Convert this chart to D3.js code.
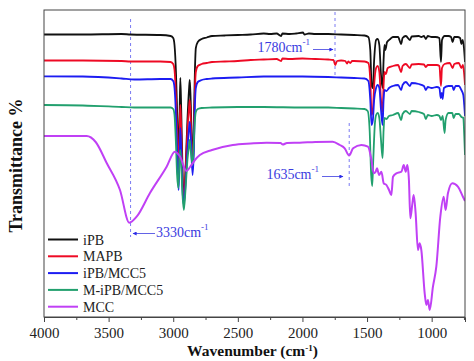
<!DOCTYPE html>
<html>
<head>
<meta charset="utf-8">
<script src="https://cdn.jsdelivr.net/npm/d3@7"></script>
<style>
  body { margin: 0; background: #fff; }
  svg { display: block; font-family: "Liberation Serif", "Times New Roman", serif; }
  svg text { font-family: "Liberation Serif", "Times New Roman", serif; }
</style>
</head>
<body>
<div id="chart"></div>
<script>
// series names and colours
const seriesNames = ['iPB', 'MAPB', 'iPB/MCC5', 'M-iPB/MCC5', 'MCC'];

// spectra: [wavenumber, transmittance (arbitrary, offset per sample)]
const iPB = [
  [4000,282.5],[3700,282.5],[3400,283],[3330,282.5],[3100,282],[3020,281],[3000,279],[2990,272],
  [2978,242],[2968,197],[2958,157],[2950,207],[2945,239],[2938,207],[2928,147],[2918,117],
  [2905,147],[2890,197],[2878,227],[2872,237],[2865,217],[2850,152],[2840,197],[2832,247],
  [2825,269],[2810,275],[2780,278],[2740,279.5],[2700,281],[2600,281.5],[2500,282],[2400,282.5],
  [2300,283.5],[2250,283],[2200,283.5],[2165,281],[2155,283.5],[2100,283],[2050,283.5],[1995,284.5],
  [1985,282.5],[1950,283.5],[1900,283],[1800,283],[1700,282.5],[1600,282],[1520,281.5],[1490,280],
  [1475,267],[1465,232],[1455,229],[1445,257],[1430,277],[1418,278],[1405,272],[1392,242],
  [1380,229],[1372,257],[1365,272],[1358,267],[1345,275],[1320,278],[1300,280],[1260,280],
  [1236,273],[1225,279],[1200,281],[1168,277],[1155,280.5],[1100,281],[1080,280],[1060,281],
  [1045,278],[1030,281],[1000,280],[970,280],[940,279],[928,255],[920,277],[900,281],
  [870,281],[850,280],[838,275],[825,280],[800,280],[780,279],[770,273],[760,277],[750,269],[742,255]
];
const MAPB = [
  [4000,256.5],[3700,256.5],[3400,256],[3330,255.5],[3100,255.5],[3020,255],[3000,253],[2990,247],
  [2978,217],[2968,177],[2958,142],[2950,187],[2945,212],[2938,187],[2928,137],[2918,117],
  [2905,142],[2890,187],[2878,209],[2872,217],[2865,199],[2850,147],[2840,182],[2832,227],
  [2825,245],[2810,251],[2780,253],[2740,254],[2700,255],[2600,255.5],[2500,256],[2400,257],
  [2300,257.5],[2200,258],[2165,256],[2155,258.5],[2100,258],[2000,258.5],[1900,258],[1800,257.5],
  [1760,257],[1746,252],[1732,256],[1700,256.5],[1668,256],[1656,253.5],[1645,255.5],[1630,254],
  [1615,256],[1600,256],[1520,255.5],[1490,254],[1475,237],[1465,202],[1455,207],[1445,232],
  [1430,249],[1418,251],[1405,245],[1392,217],[1380,205],[1372,232],[1365,245],[1355,243],
  [1340,249],[1300,251],[1260,252],[1236,245],[1225,251],[1200,253],[1168,249],[1155,252.5],
  [1100,253],[1060,252.5],[1045,250],[1030,252],[1000,252],[960,252],[940,251],[928,231],
  [920,249],[900,253],[860,254],[838,249],[825,253],[790,254],[770,249],[758,252],[750,245],[742,232]
];
const iPB_MCC5 = [
  [4000,240.7],[3700,240.5],[3400,238.5],[3300,237.5],[3100,238],[3020,238],[3000,236],[2990,229],
  [2978,199],[2968,157],[2958,127],[2950,167],[2945,189],[2938,167],[2928,127],[2918,112],
  [2905,132],[2890,167],[2878,189],[2872,195],[2865,182],[2850,142],[2840,167],[2832,212],
  [2825,229],[2810,235],[2780,237],[2740,238],[2700,238.5],[2500,239.5],[2300,240.5],[2000,240.5],
  [1800,240],[1700,239.5],[1600,239],[1520,238.5],[1490,236],[1475,217],[1465,192],[1455,197],
  [1445,217],[1430,229],[1418,232],[1405,229],[1392,207],[1380,192],[1372,217],[1365,227],
  [1350,226],[1330,229],[1300,231],[1260,232],[1236,227],[1225,232],[1200,235],[1168,231],
  [1155,234],[1100,233],[1060,231],[1045,227],[1030,230],[1000,229],[960,230],[940,229],
  [930,219],[922,224],[915,218],[905,229],[870,231],[840,231],[830,227],[815,231],
  [790,231],[770,227],[755,222],[748,212],[742,201]
];
const MiPB_MCC5 = [
  [4000,212],[3700,211.5],[3400,210],[3300,209.5],[3100,209.5],[3020,209.5],[3000,208],[2990,202],
  [2980,177],[2970,142],[2960,129],[2952,157],[2945,167],[2938,152],[2928,122],[2918,107],
  [2905,127],[2890,157],[2880,169],[2872,177],[2865,167],[2850,152],[2840,177],[2832,197],
  [2825,205],[2810,208],[2780,209],[2700,209.5],[2500,210],[2300,210],[2000,209.5],[1800,209.5],
  [1700,209],[1600,208.5],[1520,208],[1495,206],[1480,187],[1468,142],[1460,131],[1452,157],
  [1440,192],[1430,202],[1418,204],[1405,199],[1392,177],[1380,159],[1372,187],[1365,199],
  [1350,198],[1330,201],[1300,202],[1260,204],[1236,197],[1225,203],[1200,206],[1168,203],
  [1155,206],[1100,205],[1060,203],[1045,198],[1030,202],[1000,201],[960,202],[940,201],
  [928,197],[915,201],[900,184],[892,197],[870,204],[840,204],[830,199],[815,203],
  [790,203],[770,200],[755,199],[748,182],[742,162]
];
const MCC = [
  [4000,181],[3670,181],[3600,175],[3515,154],[3412,127],[3340,94.3],[3283,100.3],[3180,124],
  [3051,150.3],[2987,165.3],[2950,161],[2897,146],[2870,150],[2832,157],[2794,162],[2700,167],
  [2539,172],[2400,173.5],[2278,174.3],[2170,174],[2152,172.5],[2120,174],[2021,174.3],[1900,175],
  [1766,175.3],[1711,172],[1673,168.7],[1639,161.5],[1608,168.7],[1544,172],[1493,170.3],[1466,157],
  [1448,143.7],[1433,145.3],[1423,148.7],[1407,142],[1389,145.3],[1371,133.7],[1350,132],[1330,127],
  [1312,122],[1299,140.3],[1273,143.7],[1234,145.3],[1216,152],[1201,145.3],[1188,152],[1176,137],
  [1165,98.7],[1149,113.7],[1139,122],[1124,103.7],[1106,67],[1093,73.7],[1080,67],[1054,23.7],
  [1041,12],[1029,17],[1015,7],[990,30.3],[964,50.3],[933,100.3],[907,120.3],[892,107],
  [874,123.7],[840,133.7],[797,130.3],[758,120.3],[742,116]
];

// axis ticks
const majorTicks = [4000, 3500, 3000, 2500, 2000, 1500, 1000];
const minorTicks = [3750, 3250, 2750, 2250, 1750, 1250, 750];

// peak markers: wavenumber of dashed line, label, vertical extent of line
const markerWaves = [3330, 1748, 1638];
const markerLabels = ['3330', '1780', '1635'];
const markerRanges = [[80, 298], [242, 305], [130, 194]];

{
  const color = ['#111111', '#ee0a24', '#1c1cf2', '#22a06e', '#c040f5'];
  const allSeries = [iPB, MAPB, iPB_MCC5, MiPB_MCC5, MCC];
  const serif = '"Liberation Serif", "Times New Roman", serif';

  const width = 474, height = 361;
  const margin = { top: 10, left: 44, right: 9, bottom: 44 };

  const svg = d3.select('#chart').append('svg')
    .attr('width', width)
    .attr('height', height);

  const x = d3.scaleLinear().domain([4000, 742]).range([margin.left, width - margin.right]);
  const y = d3.scaleLinear().domain([0, 307]).range([height - margin.bottom, margin.top]);

  // clip
  svg.append('clipPath').attr('id', 'plot-clip')
    .append('rect')
    .attr('x', x(4000)).attr('y', y(307))
    .attr('width', x(742) - x(4000)).attr('height', y(0) - y(307));

  // arrow marker
  svg.append('defs').append('marker')
    .attr('id', 'arrow')
    .attr('viewBox', '0 0 10 10')
    .attr('refX', 9).attr('refY', 5)
    .attr('markerWidth', 7).attr('markerHeight', 5)
    .attr('orient', 'auto-start-reverse')
    .append('path')
    .attr('d', 'M0,0 L10,5 L0,10 z')
    .attr('fill', '#2a2ae8');

  // dashed peak lines
  svg.append('g').selectAll('line')
    .data(markerWaves)
    .enter().append('line')
    .attr('x1', d => x(d)).attr('x2', d => x(d))
    .attr('y1', (d, i) => y(markerRanges[i][1]))
    .attr('y2', (d, i) => y(markerRanges[i][0]))
    .attr('stroke', '#7a7af2')
    .attr('stroke-width', 1)
    .attr('stroke-dasharray', '3,3');

  // spectra
  const line = d3.line()
    .x(d => x(d[0]))
    .y(d => y(d[1]))
    .curve(d3.curveMonotoneX);

  svg.append('g').attr('clip-path', 'url(#plot-clip)')
    .selectAll('path')
    .data(allSeries)
    .enter().append('path')
    .attr('d', line)
    .attr('fill', 'none')
    .attr('stroke', (d, i) => color[i])
    .attr('stroke-width', (d, i) => i === 4 ? 2 : 1.8)
    .attr('stroke-linejoin', 'round');

  // frame
  svg.append('rect')
    .attr('x', x(4000)).attr('y', y(307))
    .attr('width', x(742) - x(4000)).attr('height', y(0) - y(307))
    .attr('fill', 'none')
    .attr('stroke', '#444')
    .attr('stroke-width', 1);

  // x axis
  const xAxis = svg.append('g')
    .attr('transform', `translate(0, ${y(0)})`)
    .call(d3.axisBottom(x).tickValues(majorTicks).tickSize(5).tickPadding(5).tickFormat(d3.format('d')));
  xAxis.attr('font-family', null);
  xAxis.select('.domain').attr('stroke', '#444');
  xAxis.selectAll('.tick line').attr('stroke', '#444');
  xAxis.selectAll('.tick text')
    .style('font-family', serif)
    .style('font-size', '15px')
    .attr('fill', '#222');

  const xMinor = svg.append('g')
    .attr('transform', `translate(0, ${y(0)})`)
    .call(d3.axisBottom(x).tickValues(minorTicks).tickSize(3).tickFormat(''));
  xMinor.select('.domain').remove();
  xMinor.selectAll('.tick line').attr('stroke', '#444');

  // axis titles
  const xTitle = svg.append('text')
    .attr('x', (x(4000) + x(742)) / 2 - 2)
    .attr('y', 356)
    .attr('text-anchor', 'middle')
    .attr('font-size', 15.5)
    .attr('font-weight', 'bold')
    .attr('fill', '#111');
  xTitle.append('tspan').text('Wavenumber (cm');
  xTitle.append('tspan').attr('font-size', 9).attr('dy', -5).text('-1');
  xTitle.append('tspan').attr('dy', 5).text(')');

  svg.append('text')
    .attr('transform', `translate(22, ${(y(0) + y(307)) / 2 + 2}) rotate(-90)`)
    .attr('text-anchor', 'middle')
    .attr('font-size', 18)
    .attr('font-weight', 'bold')
    .attr('fill', '#111')
    .text('Transmittance %');

  // peak labels with arrows
  const labelPos = [
    { tx: 156, ty: 237, anchor: 'start', ax1: 155, ax2: 133, ay: 233.5 },
    { tx: 310, ty: 52, anchor: 'end', ax1: 313, ax2: 333, ay: 49.5 },
    { tx: 319, ty: 178.5, anchor: 'end', ax1: 322, ax2: 343, ay: 176.5 }
  ];
  markerLabels.forEach((lab, i) => {
    const p = labelPos[i];
    const t = svg.append('text')
      .attr('x', p.tx).attr('y', p.ty)
      .attr('text-anchor', p.anchor)
      .attr('font-size', 14)
      .attr('fill', '#3b3be0');
    t.append('tspan').text(lab + 'cm');
    t.append('tspan').attr('font-size', 9).attr('dy', -7).text('-1');
    svg.append('line')
      .attr('x1', p.ax1).attr('x2', p.ax2)
      .attr('y1', p.ay).attr('y2', p.ay)
      .attr('stroke', '#3b3be0')
      .attr('stroke-width', 0.8)
      .attr('marker-end', 'url(#arrow)');
  });

  // legend
  const legend = svg.append('g').selectAll('g')
    .data(seriesNames)
    .enter().append('g')
    .attr('transform', (d, i) => `translate(48, ${239.5 + i * 16.8})`);
  legend.append('line')
    .attr('x1', 0).attr('x2', 30)
    .attr('stroke', (d, i) => color[i])
    .attr('stroke-width', 2);
  legend.append('text')
    .attr('x', 35).attr('y', 5)
    .attr('font-size', 14)
    .attr('fill', '#222')
    .text(d => d);
}
</script>
</body>
</html>
